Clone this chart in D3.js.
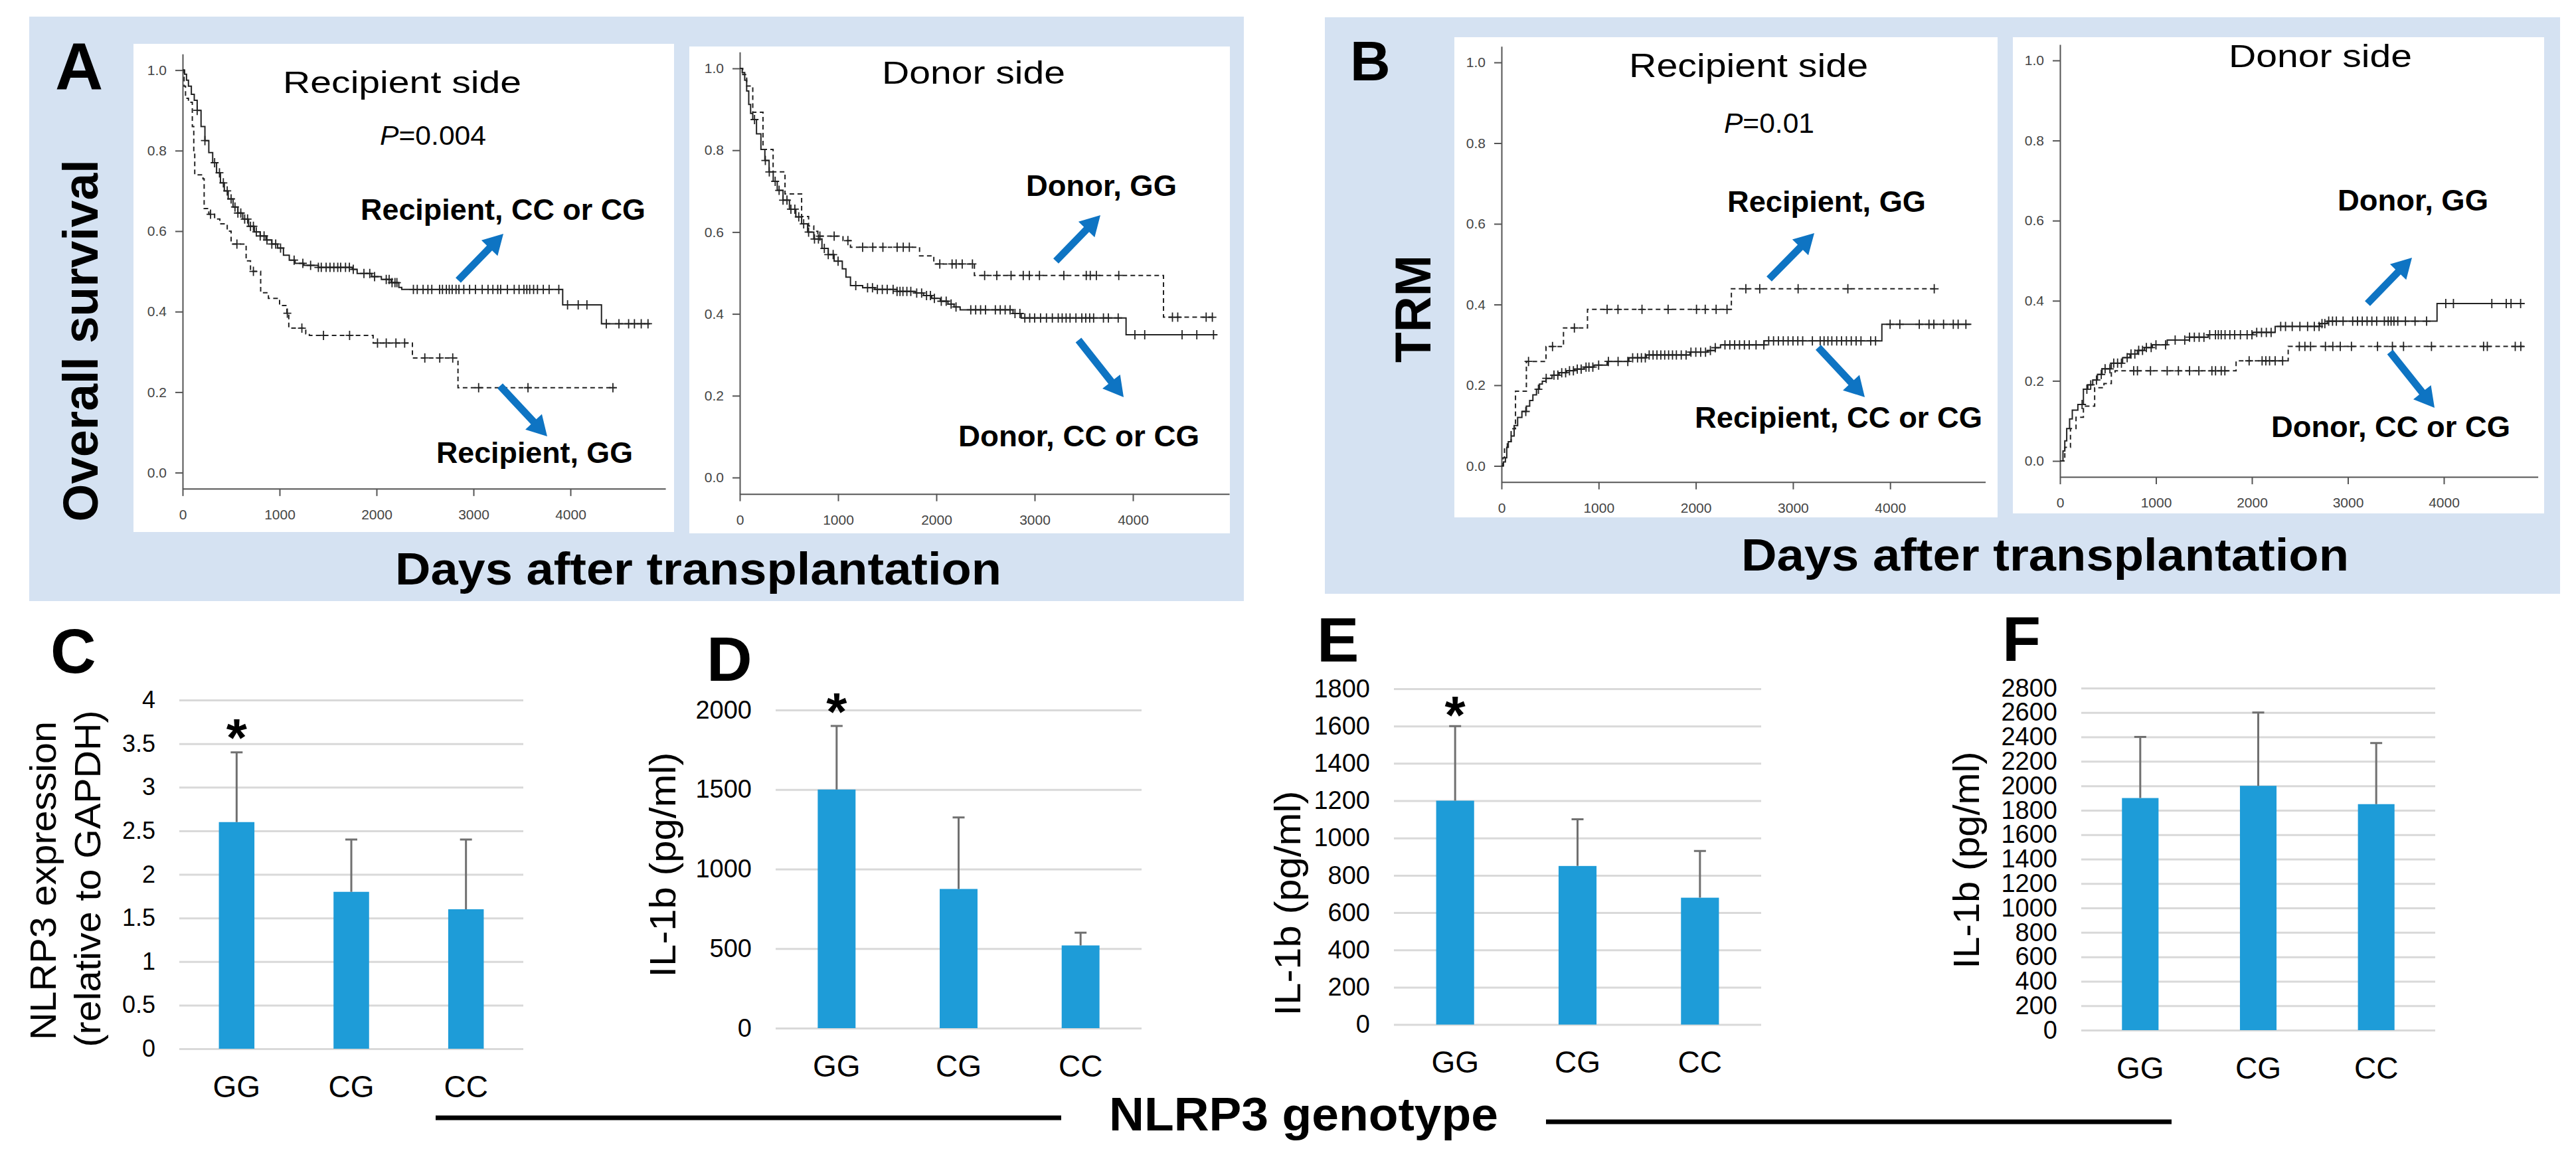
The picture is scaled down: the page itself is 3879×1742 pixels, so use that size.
<!DOCTYPE html>
<html><head><meta charset="utf-8">
<script src="https://cdn.jsdelivr.net/npm/d3@7/dist/d3.min.js"></script>
<style>html,body{margin:0;padding:0;background:#fff}svg{display:block}</style>
</head><body>
<svg id="c" width="3879" height="1742"></svg>
<script>
// ---------------- DATA ----------------
const kmTicksX = [0, 1000, 2000, 3000, 4000];
const kmTicksY = [0, 0.2, 0.4, 0.6, 0.8, 1.0];

// Panel A, recipient side (overall survival)
const osRecipCCCG = [[0,1],[20,0.99],[40,0.975],[60,0.96],[90,0.94],[120,0.925],[150,0.9],[190,0.86],[230,0.825],[270,0.795],[310,0.77],[350,0.745],[390,0.72],[430,0.70],[470,0.68],[520,0.66],[570,0.645],[620,0.63],[680,0.612],[740,0.598],[800,0.588],[860,0.578],[920,0.568],[980,0.558],[1040,0.54],[1100,0.528],[1160,0.52],[1250,0.515],[1400,0.51],[1750,0.505],[1800,0.495],[1950,0.487],[2050,0.48],[2150,0.472],[2230,0.46],[2260,0.455],[3920,0.417],[4320,0.37],[4820,0.37]];
const osRecipCCCGCens = [150,230,330,380,420,460,500,540,570,600,640,670,700,730,760,800,840,870,920,960,1010,1150,1240,1320,1400,1430,1480,1520,1560,1600,1630,1680,1720,1760,1870,1930,1980,2100,2130,2160,2190,2210,2380,2420,2480,2530,2570,2650,2680,2720,2750,2780,2820,2850,2900,2960,3020,3090,3150,3200,3250,3280,3350,3420,3470,3520,3550,3580,3620,3660,3720,3780,3880,3970,4080,4170,4370,4500,4600,4660,4730,4800];
const osRecipGG = [[0,1],[15,0.96],[30,0.93],[60,0.92],[100,0.86],[115,0.80],[125,0.74],[210,0.73],[222,0.656],[270,0.642],[330,0.63],[384,0.618],[460,0.60],[500,0.568],[655,0.526],[700,0.50],[805,0.447],[885,0.433],[1000,0.415],[1075,0.396],[1095,0.359],[1270,0.345],[1307,0.341],[1965,0.322],[2370,0.285],[2840,0.211],[4459,0.211]];
const osRecipGGCens = [288,560,730,1080,1230,1453,1722,2010,2100,2200,2290,2498,2652,2786,3053,3562,4438];

// Panel A, donor side
const osDonorCCCG = [[0,1],[25,0.99],[50,0.971],[70,0.945],[91,0.912],[110,0.89],[132,0.875],[170,0.84],[215,0.802],[255,0.775],[298,0.747],[340,0.724],[381,0.702],[440,0.678],[505,0.656],[570,0.637],[629,0.62],[690,0.60],[753,0.583],[836,0.56],[900,0.545],[960,0.529],[1043,0.51],[1080,0.49],[1126,0.469],[1250,0.464],[1374,0.46],[1600,0.455],[1787,0.451],[1870,0.445],[1953,0.438],[2040,0.431],[2118,0.424],[2180,0.417],[2242,0.41],[2780,0.401],[2863,0.39],[3930,0.349],[4828,0.349]];
const osDonorCCCGCens = [150,260,300,360,400,440,480,520,560,600,650,700,760,800,860,900,950,1000,1180,1300,1350,1400,1450,1500,1560,1600,1630,1660,1700,1740,1800,1850,1900,1940,1980,2050,2100,2150,2200,2350,2400,2450,2500,2600,2650,2700,2750,2800,2850,2900,2950,3000,3060,3120,3180,3240,3280,3320,3360,3420,3480,3520,3560,3600,3700,3750,3850,4020,4120,4500,4650,4820];
const osDonorGG = [[0,1],[30,0.985],[70,0.957],[132,0.893],[236,0.802],[339,0.747],[460,0.693],[629,0.638],[700,0.615],[753,0.602],[794,0.59],[1050,0.579],[1126,0.563],[1829,0.542],[1974,0.522],[2387,0.494],[4311,0.392],[4849,0.392]];
const osDonorGGCens = [815,960,1100,1250,1353,1456,1601,1663,1725,2035,2160,2201,2263,2367,2491,2615,2760,2884,2946,3049,3297,3525,3566,3628,3856,4402,4456,4745,4808];

// Panel B, recipient side (TRM)
const trmRecipGG = [[0,0],[15,0.02],[31,0.046],[60,0.06],[99,0.092],[144,0.185],[256,0.259],[458,0.296],[638,0.342],[885,0.388],[2366,0.439],[4499,0.439]];
const trmRecipGGCens = [278,525,750,1087,1199,1446,1715,2007,2097,2209,2321,2515,2658,3053,3565,4454];
const trmRecipCCCG = [[0,0],[20,0.01],[40,0.02],[54,0.046],[70,0.06],[99,0.074],[130,0.1],[166,0.12],[210,0.135],[256,0.148],[290,0.162],[323,0.176],[360,0.19],[391,0.203],[420,0.21],[458,0.217],[520,0.225],[593,0.231],[670,0.236],[750,0.24],[850,0.245],[952,0.25],[1087,0.259],[1311,0.268],[1491,0.275],[1940,0.282],[2119,0.286],[2200,0.293],[2254,0.3],[2703,0.31],[3915,0.351],[4836,0.351]];
const trmRecipCCCGCens = [250,380,460,540,580,620,660,700,740,780,820,870,900,940,1000,1100,1200,1300,1350,1400,1440,1480,1520,1560,1600,1640,1680,1720,1760,1800,1850,1900,1950,2000,2050,2100,2150,2200,2300,2350,2400,2450,2500,2550,2620,2700,2750,2800,2850,2900,2950,3000,3050,3100,3200,3280,3320,3360,3400,3450,3500,3550,3600,3650,3700,3800,3850,4000,4100,4300,4400,4450,4550,4650,4700,4780];

// Panel B, donor side
const trmDonorCCCG = [[0,0],[31,0.025],[50,0.05],[70,0.081],[100,0.105],[128,0.127],[186,0.141],[244,0.179],[290,0.19],[341,0.202],[390,0.216],[438,0.23],[535,0.244],[652,0.258],[730,0.267],[807,0.276],[880,0.283],[962,0.29],[1117,0.302],[1350,0.309],[1544,0.315],[2009,0.321],[2242,0.336],[2708,0.343],[2785,0.349],[3929,0.393],[4841,0.393]];
const trmDonorCCCGCens = [230,280,320,380,430,470,520,560,600,640,700,740,780,820,860,900,950,1000,1100,1200,1300,1350,1400,1450,1500,1560,1620,1650,1680,1720,1770,1820,1880,1950,2000,2050,2100,2150,2200,2300,2350,2420,2500,2580,2650,2700,2730,2760,2800,2840,2880,2950,3050,3100,3150,3200,3250,3300,3380,3420,3450,3480,3520,3600,3700,3820,4020,4100,4500,4650,4700,4800];
const trmDonorGG = [[0,0],[50,0.034],[109,0.081],[167,0.109],[244,0.137],[361,0.183],[458,0.193],[535,0.22],[574,0.225],[1835,0.25],[2378,0.286],[4849,0.286]];
const trmDonorGGCens = [768,807,943,1117,1234,1350,1447,1583,1621,1680,1718,1971,2106,2145,2184,2242,2320,2494,2552,2611,2766,2843,2921,3037,3309,3464,3580,3871,4414,4453,4744,4802];

// Bar charts
const genotypes = ["GG", "CG", "CC"];
const nlrp3Mean = [2.6, 1.8, 1.6];
const nlrp3Err  = [0.8, 0.6, 0.8];
const il1bDMean = [1500, 875, 520];
const il1bDErr  = [400, 450, 80];
const il1bEMean = [1200, 850, 680];
const il1bEErr  = [400, 250, 250];
const il1bFMean = [1900, 2000, 1850];
const il1bFErr  = [500, 600, 500];
const cTicks = [0, 0.5, 1, 1.5, 2, 2.5, 3, 3.5, 4];
const dTicks = [0, 500, 1000, 1500, 2000];
const eTicks = [0, 200, 400, 600, 800, 1000, 1200, 1400, 1600, 1800];
const fTicks = [0, 200, 400, 600, 800, 1000, 1200, 1400, 1600, 1800, 2000, 2200, 2400, 2600, 2800];

// ---------------- DRAWING ----------------
const FONT = '"Liberation Sans", Arial, Helvetica, sans-serif';
const svg = d3.select("#c").style("font-family", FONT);
const BG = "#D5E2F2", ARROW = "#0E74C3", BARC = "#1E9CD8", INK = "#222";

function addText(parent, o) {
  const t = parent.append("text")
    .attr("font-size", o.size)
    .attr("font-weight", o.bold ? "bold" : "normal")
    .attr("fill", o.fill || "#000");
  if (o.rotate) {
    t.attr("transform", `translate(${o.x},${o.y}) rotate(-90)`).attr("text-anchor", "middle");
  } else {
    t.attr("x", o.x).attr("y", o.y).attr("text-anchor", o.anchor || "start");
  }
  if (o.italicPrefix) {
    t.append("tspan").attr("font-style", "italic").text(o.italicPrefix);
    t.append("tspan").text(o.text);
  } else t.text(o.text);
  if (o.len) t.attr("textLength", o.len).attr("lengthAdjust", "spacingAndGlyphs");
  return t;
}

function arrow(parent, x1, y1, x2, y2) {
  const dx = x2 - x1, dy = y2 - y1, L = Math.hypot(dx, dy);
  const ux = dx / L, uy = dy / L, nx = -uy, ny = ux;
  const sw = 11, hl = 30, hw = 17;
  const bx = x2 - ux * hl, by = y2 - uy * hl;
  const pts = [
    [x1 + nx * sw / 2, y1 + ny * sw / 2], [bx + nx * sw / 2, by + ny * sw / 2],
    [bx + nx * hw, by + ny * hw], [x2, y2], [bx - nx * hw, by - ny * hw],
    [bx - nx * sw / 2, by - ny * sw / 2], [x1 - nx * sw / 2, y1 - ny * sw / 2]];
  parent.append("polygon").attr("points", pts.map(p => p.join(",")).join(" ")).attr("fill", ARROW);
}

// Blue backgrounds
svg.append("rect").attr("x", 44).attr("y", 25).attr("width", 1829).attr("height", 880).attr("fill", BG);
svg.append("rect").attr("x", 1995).attr("y", 26).attr("width", 1860).attr("height", 868).attr("fill", BG);

const KM_XMAX = 4980;
function stepVal(data, t) {
  const i = d3.bisector(d => d[0]).right(data, t) - 1;
  return data[Math.max(0, i)][1];
}
function km(cfg) {
  const g = svg.append("g");
  g.append("rect").attr("x", cfg.wx0).attr("y", cfg.wy0).attr("width", cfg.wx1 - cfg.wx0).attr("height", cfg.wy1 - cfg.wy0).attr("fill", "#fff");
  const x = d3.scaleLinear().domain([0, KM_XMAX]).range([cfg.x0, cfg.x0 + cfg.per1000 * KM_XMAX / 1000]);
  const y = d3.scaleLinear().domain([-0.04, 1.04]).range([cfg.y0 + 0.04 * cfg.unit, cfg.y0 - 1.04 * cfg.unit]);
  const ay = g.append("g").attr("transform", `translate(${x(0)},0)`)
    .call(d3.axisLeft(y).tickValues(kmTicksY).tickFormat(d3.format(".1f")).tickSize(11).tickSizeOuter(0).tickPadding(13));
  const ax = g.append("g").attr("transform", `translate(0,${y(-0.04)})`)
    .call(d3.axisBottom(x).tickValues(kmTicksX).tickFormat(d3.format("d")).tickSize(11).tickSizeOuter(0).tickPadding(20));
  [ax, ay].forEach(a => {
    a.selectAll("path,line").attr("stroke", "#555").attr("stroke-width", 2);
    a.selectAll("text").attr("font-size", 21).attr("fill", "#444").attr("font-family", FONT);
  });
  const line = d3.line().x(d => x(d[0])).y(d => y(d[1])).curve(d3.curveStepAfter);
  cfg.curves.forEach(c => {
    g.append("path").attr("d", line(c.data)).attr("fill", "none").attr("stroke", INK)
      .attr("stroke-width", 2).attr("stroke-dasharray", c.dashed ? "7,5" : null);
    g.selectAll(null).data(c.cens).join("path")
      .attr("transform", t => `translate(${x(t)},${y(stepVal(c.data, t))})`)
      .attr("d", "M-6,0H6M0,-7V7").attr("stroke", INK).attr("stroke-width", 1.8).attr("fill", "none");
  });
  return g;
}

// Panel A
km({ wx0: 201, wy0: 66, wx1: 1015, wy1: 801, x0: 275, per1000: 146, y0: 711.6, unit: 606,
  curves: [{ data: osRecipCCCG, cens: osRecipCCCGCens }, { data: osRecipGG, cens: osRecipGGCens, dashed: true }] });
km({ wx0: 1038, wy0: 70, wx1: 1852, wy1: 803, x0: 1114, per1000: 148, y0: 719, unit: 616,
  curves: [{ data: osDonorCCCG, cens: osDonorCCCGCens }, { data: osDonorGG, cens: osDonorGGCens, dashed: true }] });
// Panel B
km({ wx0: 2190, wy0: 56, wx1: 3008, wy1: 779, x0: 2261, per1000: 146.3, y0: 701.5, unit: 607.5,
  curves: [{ data: trmRecipCCCG, cens: trmRecipCCCGCens }, { data: trmRecipGG, cens: trmRecipGGCens, dashed: true }] });
km({ wx0: 3031, wy0: 56, wx1: 3831, wy1: 773, x0: 3102, per1000: 144.5, y0: 694, unit: 603,
  curves: [{ data: trmDonorCCCG, cens: trmDonorCCCGCens }, { data: trmDonorGG, cens: trmDonorGGCens, dashed: true }] });

// Texts panel A
addText(svg, { text: "A", x: 83, y: 135, size: 100, bold: true });
addText(svg, { text: "Recipient side", x: 426, y: 140, size: 47, len: 359 });
addText(svg, { italicPrefix: "P", text: "=0.004", x: 572, y: 218, size: 41, len: 160 });
addText(svg, { text: "Recipient, CC or CG", x: 543, y: 331, size: 45, bold: true, len: 429 });
addText(svg, { text: "Recipient, GG", x: 657, y: 697, size: 45, bold: true, len: 296 });
addText(svg, { text: "Donor side", x: 1328, y: 126, size: 48, len: 276 });
addText(svg, { text: "Donor, GG", x: 1545, y: 295, size: 45, bold: true, len: 227 });
addText(svg, { text: "Donor, CC or CG", x: 1443, y: 672, size: 45, bold: true, len: 363 });
addText(svg, { text: "Overall survival", x: 147, y: 513, size: 74, bold: true, rotate: true, len: 545 });
addText(svg, { text: "Days after transplantation", x: 595, y: 880, size: 68, bold: true, len: 913 });
arrow(svg, 690, 422, 758, 352);
arrow(svg, 753, 581, 824, 657);
arrow(svg, 1590, 393, 1657, 324);
arrow(svg, 1624, 512, 1692, 598);

// Texts panel B
addText(svg, { text: "B", x: 2033, y: 121, size: 84, bold: true });
addText(svg, { text: "Recipient side", x: 2453, y: 116, size: 50, len: 360 });
addText(svg, { italicPrefix: "P", text: "=0.01", x: 2596, y: 200, size: 42, len: 136 });
addText(svg, { text: "Recipient, GG", x: 2601, y: 319, size: 45, bold: true, len: 299 });
addText(svg, { text: "Recipient, CC or CG", x: 2552, y: 644, size: 45, bold: true, len: 433 });
addText(svg, { text: "Donor side", x: 3356, y: 101, size: 48, len: 276 });
addText(svg, { text: "Donor, GG", x: 3520, y: 317, size: 45, bold: true, len: 227 });
addText(svg, { text: "Donor, CC or CG", x: 3420, y: 658, size: 45, bold: true, len: 360 });
addText(svg, { text: "TRM", x: 2154, y: 465, size: 76, bold: true, rotate: true, len: 162 });
addText(svg, { text: "Days after transplantation", x: 2622, y: 859, size: 68, bold: true, len: 915 });
arrow(svg, 2664, 420, 2732, 351);
arrow(svg, 2738, 523, 2808, 598);
arrow(svg, 3565, 457, 3632, 388);
arrow(svg, 3599, 530, 3666, 614);

// Bar charts
function bar(cfg) {
  const g = svg.append("g");
  const x = d3.scaleBand().domain(genotypes).range([cfg.gx0, cfg.gx1]).paddingInner(0.69).paddingOuter(0.345);
  const y = d3.scaleLinear().domain([0, cfg.max]).range([cfg.yb, cfg.yt]);
  const ay = g.append("g").attr("transform", `translate(${cfg.gx0},0)`)
    .call(d3.axisLeft(y).tickValues(cfg.ticks).tickFormat(d => String(d)).tickSize(-(cfg.gx1 - cfg.gx0)).tickPadding(36));
  ay.select(".domain").remove();
  ay.selectAll("line").attr("stroke", "#D9D9D9").attr("stroke-width", 3);
  ay.selectAll("text").attr("font-size", cfg.tickSize).attr("fill", "#000").attr("font-family", FONT);
  const ax = g.append("g").attr("transform", `translate(0,${cfg.yb})`)
    .call(d3.axisBottom(x).tickSize(0).tickPadding(40));
  ax.select(".domain").remove();
  ax.selectAll("text").attr("font-size", 46).attr("fill", "#000").attr("font-family", FONT);
  const rows = genotypes.map((k, i) => ({ k, m: cfg.mean[i], e: cfg.err[i] }));
  g.selectAll(null).data(rows).join("rect")
    .attr("x", d => x(d.k)).attr("width", x.bandwidth())
    .attr("y", d => y(d.m)).attr("height", d => y(0) - y(d.m)).attr("fill", BARC);
  const cx = d => x(d.k) + x.bandwidth() / 2;
  g.selectAll(null).data(rows).join("path")
    .attr("d", d => `M${cx(d)},${y(d.m)}V${y(d.m + d.e)}M${cx(d) - 9},${y(d.m + d.e)}H${cx(d) + 9}`)
    .attr("stroke", "#707070").attr("stroke-width", 3).attr("fill", "none");
  if (cfg.star) {
    addText(g, { text: "*", x: x("GG") + x.bandwidth() / 2, y: cfg.star, size: 80, bold: true, anchor: "middle" });
  }
  cfg.titles.forEach(t => addText(g, { text: t.text, x: t.x, y: t.y, size: 56, rotate: true, len: t.len }));
  addText(g, { text: cfg.letter[0], x: cfg.letter[1], y: cfg.letter[2], size: 95, bold: true });
}

bar({ gx0: 270, gx1: 788, yb: 1579, yt: 1054, max: 4, ticks: cTicks, tickSize: 36, mean: nlrp3Mean, err: nlrp3Err, star: 1138,
  titles: [{ text: "NLRP3 expression", x: 84, y: 1326, len: 480 }, { text: "(relative to GAPDH)", x: 151, y: 1323, len: 507 }],
  letter: ["C", 76, 1013] });
bar({ gx0: 1168, gx1: 1719, yb: 1548, yt: 1069, max: 2000, ticks: dTicks, tickSize: 38, mean: il1bDMean, err: il1bDErr, star: 1099,
  titles: [{ text: "IL-1b  (pg/ml)", x: 1017, y: 1302, len: 339 }], letter: ["D", 1064, 1025] });
bar({ gx0: 2099, gx1: 2652, yb: 1542.6, yt: 1037, max: 1800, ticks: eTicks, tickSize: 38, mean: il1bEMean, err: il1bEErr, star: 1104,
  titles: [{ text: "IL-1b  (pg/ml)", x: 1958, y: 1360, len: 339 }], letter: ["E", 1983, 996] });
bar({ gx0: 3134, gx1: 3667, yb: 1551, yt: 1036, max: 2800, ticks: fTicks, tickSize: 38, mean: il1bFMean, err: il1bFErr, star: null,
  titles: [{ text: "IL-1b  (pg/ml)", x: 2980, y: 1295, len: 327 }], letter: ["F", 3015, 995] });

// Genotype bracket
svg.append("line").attr("x1", 656).attr("x2", 1598).attr("y1", 1683).attr("y2", 1683).attr("stroke", "#000").attr("stroke-width", 7);
svg.append("line").attr("x1", 2328).attr("x2", 3270).attr("y1", 1689).attr("y2", 1689).attr("stroke", "#000").attr("stroke-width", 7);
addText(svg, { text: "NLRP3 genotype", x: 1670, y: 1702, size: 70, bold: true, len: 586 });
</script>
</body></html>
